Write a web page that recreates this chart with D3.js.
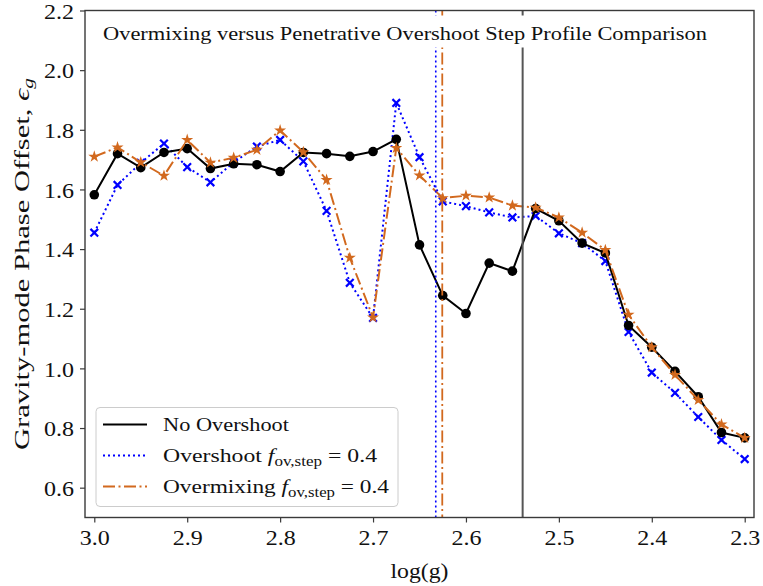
<!DOCTYPE html>
<html>
<head>
<meta charset="utf-8">
<script src="https://cdn.jsdelivr.net/npm/d3@7"></script>
<style>
  html, body { margin: 0; padding: 0; background: #fff; }
  svg { display: block; }
  text { font-family: "Liberation Serif", "DejaVu Serif", serif; fill: #111; }
</style>
</head>
<body>
<svg id="chart" width="763" height="586"></svg>
<script>
// Surface gravity grid (log g), shared by all three model runs
const logg = [3.000, 2.975, 2.950, 2.925, 2.900, 2.875, 2.850, 2.825, 2.800, 2.775,
              2.750, 2.725, 2.700, 2.675, 2.650, 2.625, 2.600, 2.575, 2.550, 2.525,
              2.500, 2.475, 2.450, 2.425, 2.400, 2.375, 2.350, 2.325, 2.300];

// Gravity-mode phase offset epsilon_g for each run
const noOvershoot = [1.582, 1.720, 1.673, 1.724, 1.737, 1.670, 1.686, 1.683, 1.660, 1.724,
                     1.720, 1.711, 1.727, 1.768, 1.414, 1.244, 1.184, 1.353, 1.326, 1.536,
                     1.495, 1.420, 1.387, 1.144, 1.071, 0.990, 0.905, 0.785, 0.767];
const overshoot   = [1.455, 1.615, 1.689, 1.754, 1.675, 1.624, 1.691, 1.744, 1.766, 1.694,
                     1.528, 1.287, 1.169, 1.890, 1.708, 1.560, 1.544, 1.523, 1.506, 1.511,
                     1.453, 1.420, 1.360, 1.122, 0.986, 0.918, 0.837, 0.760, 0.696];
const overmixing  = [1.710, 1.741, 1.691, 1.646, 1.766, 1.690, 1.706, 1.733, 1.798, 1.725,
                     1.632, 1.371, 1.171, 1.739, 1.647, 1.571, 1.579, 1.573, 1.546, 1.539,
                     1.506, 1.455, 1.397, 1.180, 1.071, 0.978, 0.894, 0.812, 0.767];

// Reference log g positions marked with vertical lines
const markOvershoot = 2.6325;
const markOvermixing = 2.6255;
const markNoOvershoot = 2.539;

const xTicks = [3.0, 2.9, 2.8, 2.7, 2.6, 2.5, 2.4, 2.3];
const yTicks = [0.6, 0.8, 1.0, 1.2, 1.4, 1.6, 1.8, 2.0, 2.2];

const svg = d3.select("#chart");
const margin = { left: 85, right: 9, top: 10.5, bottom: 68.5 };
const W = 763, H = 586;
const iw = W - margin.left - margin.right;
const ih = H - margin.top - margin.bottom;

const x = d3.scaleLinear().domain([3.01, 2.29]).range([0, iw]);
const y = d3.scaleLinear().domain([0.5, 2.2]).range([ih, 0]);

const g = svg.append("g").attr("transform", `translate(${margin.left},${margin.top})`);

const axisColor = "#3a3a3a";
// Stretch a text run horizontally to a given width (wide serif look)
const stretch = (sel, w) => sel.attr("textLength", w).attr("lengthAdjust", "spacingAndGlyphs");

// Axes
const xAxis = g.append("g").attr("transform", `translate(0,${ih})`)
  .call(d3.axisBottom(x).tickValues(xTicks).tickFormat(d3.format(".1f")).tickSizeOuter(0).tickSize(5).tickPadding(7));
const yAxis = g.append("g")
  .call(d3.axisLeft(y).tickValues(yTicks).tickFormat(d3.format(".1f")).tickSizeOuter(0).tickSize(5).tickPadding(6));
[xAxis, yAxis].forEach(a => {
  a.select(".domain").remove();
  a.selectAll(".tick line").attr("stroke", axisColor).attr("stroke-width", 1.2);
  a.selectAll(".tick text").attr("font-size", 21.5).attr("font-family", "Liberation Serif, serif").attr("fill", "#111")
    .call(s => stretch(s, 30));
});
yAxis.selectAll(".tick text").attr("dy", "0.36em");

const blue = "#0000ff";
const orange = "#d2691e";
const dotted = "2,3";
const dashdot = "12,3.5,2,3.5";

// Clip to the plotting area
svg.append("defs").append("clipPath").attr("id", "plotclip")
  .append("rect").attr("width", iw).attr("height", ih);
const plot = g.append("g").attr("clip-path", "url(#plotclip)");

const line = vals => d3.line().x((d, i) => x(logg[i])).y(d => y(d))(vals);

// Overshoot run (dotted, x markers)
plot.append("path").attr("d", line(overshoot)).attr("fill", "none")
  .attr("stroke", blue).attr("stroke-width", 2).attr("stroke-dasharray", dotted);
plot.selectAll(".mx").data(overshoot).join("path")
  .attr("transform", (d, i) => `translate(${x(logg[i])},${y(d)})`)
  .attr("d", d3.symbol().type(d3.symbolX).size(40)())
  .attr("fill", "none").attr("stroke", blue).attr("stroke-width", 2.2);

// No-overshoot run (solid, circles)
plot.append("path").attr("d", line(noOvershoot)).attr("fill", "none")
  .attr("stroke", "#000").attr("stroke-width", 2);
plot.selectAll(".mc").data(noOvershoot).join("circle")
  .attr("cx", (d, i) => x(logg[i])).attr("cy", d => y(d)).attr("r", 4.8).attr("fill", "#000");

// Overmixing run (dash-dot, stars)
plot.append("path").attr("d", line(overmixing)).attr("fill", "none")
  .attr("stroke", orange).attr("stroke-width", 2).attr("stroke-dasharray", dashdot);
plot.selectAll(".ms").data(overmixing).join("path")
  .attr("transform", (d, i) => `translate(${x(logg[i])},${y(d)})`)
  .attr("d", d3.symbol().type(d3.symbolStar).size(45)())
  .attr("fill", orange);

// Vertical markers
plot.append("line").attr("x1", x(markOvershoot)).attr("x2", x(markOvershoot))
  .attr("y1", 0).attr("y2", ih).attr("stroke", blue).attr("stroke-width", 1.6).attr("stroke-dasharray", dotted);
plot.append("line").attr("x1", x(markOvermixing)).attr("x2", x(markOvermixing))
  .attr("y1", 0).attr("y2", ih).attr("stroke", orange).attr("stroke-width", 1.8).attr("stroke-dasharray", dashdot);
plot.append("line").attr("x1", x(markNoOvershoot)).attr("x2", x(markNoOvershoot))
  .attr("y1", 0).attr("y2", ih).attr("stroke", "#555").attr("stroke-width", 2);

// Title inside the axes on a white box
const titleBox = g.append("rect").attr("fill", "#fff");
const title = g.append("text").attr("x", 18).attr("y", 29.5)
  .attr("font-size", 19.5).text("Overmixing versus Penetrative Overshoot Step Profile Comparison");
stretch(title, 604);
const tb = title.node().getBBox();
titleBox.attr("x", tb.x - 4).attr("y", 5).attr("width", tb.width + 8).attr("height", 32);

// Frame
g.append("rect").attr("width", iw).attr("height", ih).attr("fill", "none")
  .attr("stroke", axisColor).attr("stroke-width", 1.4);

// Legend
const lg = g.append("g").attr("transform", `translate(11,${y(0.5) - 110})`);
lg.append("rect").attr("width", 302).attr("height", 99).attr("rx", 4)
  .attr("fill", "#fff").attr("fill-opacity", 0.85).attr("stroke", "#cccccc").attr("stroke-width", 1);
const entries = [
  { color: "#000", dash: null, label: "No Overshoot", math: false, w: 126 },
  { color: blue, dash: dotted, label: "Overshoot ", math: true, w: 214 },
  { color: orange, dash: dashdot, label: "Overmixing ", math: true, w: 226 }
];
entries.forEach((e, i) => {
  const cy = 17 + i * 31;
  lg.append("line").attr("x1", 7).attr("x2", 51).attr("y1", cy).attr("y2", cy)
    .attr("stroke", e.color).attr("stroke-width", 2).attr("stroke-dasharray", e.dash);
  const t = lg.append("text").attr("x", 67).attr("y", cy + 6.5).attr("font-size", 19.5);
  t.append("tspan").text(e.label);
  if (e.math) {
    t.append("tspan").attr("font-style", "italic").text("f");
    t.append("tspan").attr("font-size", 14).attr("dy", 4).text("ov,step");
    t.append("tspan").attr("dy", -4).text(" = 0.4");
  }
  stretch(t, e.w);
});

// Axis labels
const xl = svg.append("text").attr("x", margin.left + iw / 2).attr("y", 578).attr("text-anchor", "middle")
  .attr("font-size", 21.5).text("log(g)");
stretch(xl, 58);
const yl = svg.append("text")
  .attr("transform", `translate(29,${margin.top + ih / 2}) rotate(-90)`)
  .attr("text-anchor", "middle").attr("font-size", 21.5);
yl.append("tspan").text("Gravity-mode Phase Offset, ");
yl.append("tspan").attr("font-style", "italic").text("ϵ");
yl.append("tspan").attr("font-style", "italic").attr("font-size", 15).attr("dy", 4).text("g");
stretch(yl, 372);
</script>
</body>
</html>
